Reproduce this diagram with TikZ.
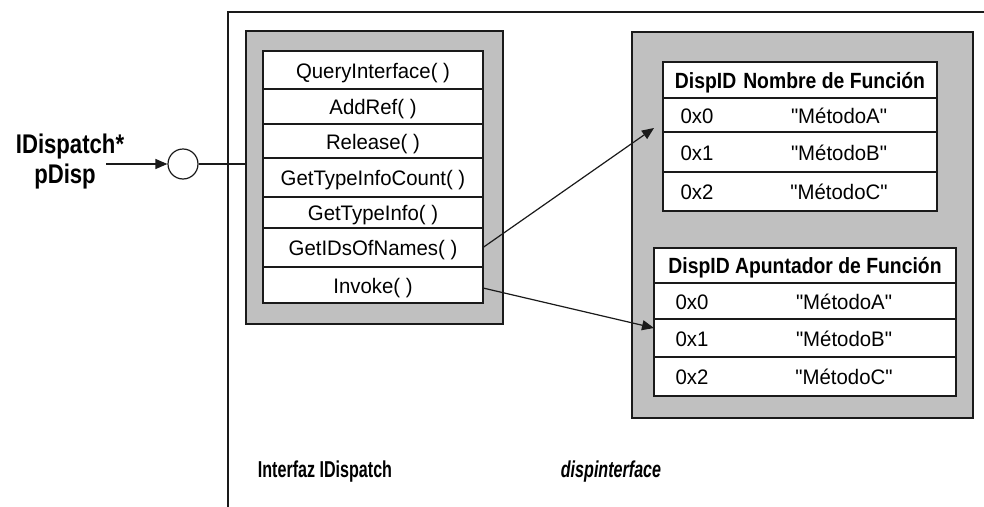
\documentclass[tikz,border=0pt]{standalone}
\usepackage{fontspec}
\setmainfont{Liberation Sans}
\newfontfamily\rgfont[FakeStretch=0.97]{Liberation Sans}
\newfontfamily\hdfont[FakeStretch=0.88]{Liberation Sans}
\newfontfamily\ptrfont[FakeStretch=0.82]{Liberation Sans}
\newfontfamily\lblfont[FakeStretch=0.70]{Liberation Sans}
\usetikzlibrary{arrows.meta}
\definecolor{panel}{HTML}{C0C0C0}
\definecolor{ink}{HTML}{1A1A1A}
\begin{document}
\begin{tikzpicture}[x=1pt,y=-1pt,
  panelbox/.style={draw=ink, line width=1.6pt, fill=panel, inner sep=0pt, outer sep=0pt},
  rowbox/.style={draw=ink, line width=1.6pt, fill=white, inner sep=0pt, outer sep=0pt},
  rowtxt/.style={anchor=base, inner sep=0pt, text=black, font=\rgfont\fontsize{21}{24}\selectfont},
  hdtxt/.style={anchor=base, inner sep=0pt, text=black, font=\hdfont\bfseries\fontsize{22}{24}\selectfont},
  ptrtxt/.style={anchor=base, inner sep=0pt, text=black, font=\ptrfont\bfseries\fontsize{27}{30}\selectfont},
  lbltxt/.style={anchor=base, inner sep=0pt, text=black, font=\lblfont\bfseries\fontsize{23}{26}\selectfont},
  conn/.style={draw=ink, line width=1.2pt, -{Triangle[length=12pt,width=10pt]}},
  thin/.style={draw=ink, line width=1.2pt},
]
\useasboundingbox (0,0) rectangle (984,506);
\fill[white] (0,0) rectangle (984,506);

% outer frame
\draw[ink, line width=1.6pt] (228,510) -- (228,12) -- (990,12);

% left panel: IDispatch vtable
\node[panelbox, minimum width=257pt, minimum height=293pt] (L) at (374.5,177.5) {};
\node[rowbox, minimum width=220pt, minimum height=38pt] (m1) at (373,70) {};
\node[rowbox, minimum width=220pt, minimum height=35pt] (m2) at (373,106.5) {};
\node[rowbox, minimum width=220pt, minimum height=34pt] (m3) at (373,141) {};
\node[rowbox, minimum width=220pt, minimum height=39pt] (m4) at (373,177.5) {};
\node[rowbox, minimum width=220pt, minimum height=31pt] (m5) at (373,212.5) {};
\node[rowbox, minimum width=220pt, minimum height=39pt] (m6) at (373,247.5) {};
\node[rowbox, minimum width=220pt, minimum height=36pt] (m7) at (373,285) {};
\node[rowtxt] (t1) at (373,78) {QueryInterface( )};
\node[rowtxt] (t2) at (373,114.5) {AddRef( )};
\node[rowtxt] (t3) at (373,149) {Release( )};
\node[rowtxt] (t4) at (373,185.5) {GetTypeInfoCount( )};
\node[rowtxt] (t5) at (373,220.5) {GetTypeInfo( )};
\node[rowtxt] (t6) at (373,255.5) {GetIDsOfNames( )};
\node[rowtxt] (t7) at (373,293) {Invoke( )};

% right panel: dispinterface
\node[panelbox, minimum width=341pt, minimum height=386pt] (R) at (802.5,225) {};
% top table
\node[rowbox, minimum width=274pt, minimum height=36pt] (a0) at (800,80) {};
\node[rowbox, minimum width=274pt, minimum height=34pt] (a1) at (800,115) {};
\node[rowbox, minimum width=274pt, minimum height=40pt] (a2) at (800,152) {};
\node[rowbox, minimum width=274pt, minimum height=39pt] (a3) at (800,191.5) {};
\node[hdtxt] (ah) at (800,88) {DispID\hspace{7pt}Nombre de Función};
\node[rowtxt] (a1i) at (697,123) {0x0};
\node[rowtxt] (a1n) at (839,123) {"MétodoA"};
\node[rowtxt] (a2i) at (697,160) {0x1};
\node[rowtxt] (a2n) at (839,160) {"MétodoB"};
\node[rowtxt] (a3i) at (697,199.5) {0x2};
\node[rowtxt] (a3n) at (839,199.5) {"MétodoC"};
% bottom table
\node[rowbox, minimum width=302pt, minimum height=35pt] (b0) at (805,265.5) {};
\node[rowbox, minimum width=302pt, minimum height=36pt] (b1) at (805,301) {};
\node[rowbox, minimum width=302pt, minimum height=38pt] (b2) at (805,338) {};
\node[rowbox, minimum width=302pt, minimum height=39pt] (b3) at (805,376.5) {};
\node[hdtxt] (bh) at (805,273.5) {DispID Apuntador de Función};
\node[rowtxt] (b1i) at (692,309) {0x0};
\node[rowtxt] (b1n) at (844,309) {"MétodoA"};
\node[rowtxt] (b2i) at (692,346) {0x1};
\node[rowtxt] (b2n) at (844,346) {"MétodoB"};
\node[rowtxt] (b3i) at (692,384.5) {0x2};
\node[rowtxt] (b3n) at (844,384.5) {"MétodoC"};

% interface pointer
\node[ptrtxt] (p1) at (70,153) {IDispatch*};
\node[ptrtxt] (p2) at (65,183) {pDisp};
\node[circle, draw=ink, line width=1.2pt, fill=white, minimum size=30pt, inner sep=0pt] (c) at (183,164) {};
\coordinate (ps) at (106,164);
\draw[conn] (ps) -- (c.west);
\draw[thin] (c.east) -- (c.east -| L.west);

% connectors
\coordinate (tipA) at (654,128);
\coordinate (tipB) at (654,328);
\draw[conn] (m6.east) -- (tipA);
\draw[conn] ([yshift=-3pt]m7.east) -- (tipB);

% captions
\node[lbltxt] (li) at (325,477) {Interfaz IDispatch};
\node[lbltxt, font=\lblfont\bfseries\itshape\fontsize{23}{26}\selectfont] (ld) at (611,477) {dispinterface};
\end{tikzpicture}
\end{document}
